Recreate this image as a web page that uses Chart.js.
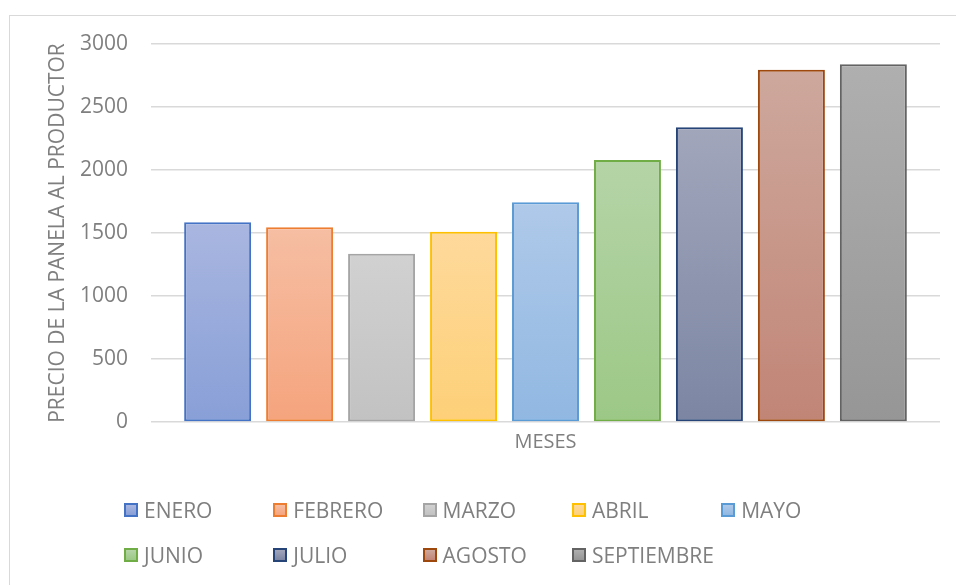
<!DOCTYPE html>
<html>
<head>
<meta charset="utf-8">
<script src="https://cdn.jsdelivr.net/npm/chart.js@4.4.1/dist/chart.umd.min.js"></script>
<style>
  html, body { margin: 0; padding: 0; background: #fff; overflow: hidden; }
  #wrap { position: relative; width: 956px; height: 585px; }
  #frame { position: absolute; left: 9px; top: 15px; width: 960px; height: 600px; border: 1.5px solid #d9d9d9; box-sizing: border-box; }
  #chart { position: absolute; left: 0; top: 0; }
  #legend { position: absolute; left: 0; top: 0; width: 956px; height: 585px; pointer-events: none;
            font-family: "Open Sans", sans-serif; font-size: 21px; color: #7f7f7f; }
  .lg { position: absolute; display: flex; align-items: center; white-space: nowrap; }
  .lg i { display: inline-block; width: 10px; height: 10px; border: 2px solid; margin-right: 6px; }
</style>
</head>
<body>
<div id="wrap">
  <div id="frame"></div>
  <canvas id="chart" width="956" height="585"></canvas>
  <div id="legend"></div>
</div>
<script>
// ---- datos ----
const meses   = ['ENERO', 'FEBRERO', 'MARZO', 'ABRIL', 'MAYO', 'JUNIO', 'JULIO', 'AGOSTO', 'SEPTIEMBRE'];
const precios = [1585, 1545, 1335, 1510, 1745, 2080, 2340, 2795, 2840];
const bordes  = ['#4472C4', '#ED7D31', '#A5A5A5', '#FFC000', '#5B9BD5', '#70AD47', '#264478', '#9E480E', '#636363'];
const arriba  = ['#A9B6E0', '#F6BEA3', '#D1D1D1', '#FED99B', '#AFC9E9', '#B5D4A7', '#A1A6BB', '#CEA89D', '#AFAFAF'];
const abajo   = ['#889FD7', '#F5A47D', '#C2C2C2', '#FDD078', '#91B8E2', '#9CC886', '#7C86A3', '#C18576', '#969696'];
const ticksY  = [0, 500, 1000, 1500, 2000, 2500, 3000];

const FONT = '"Open Sans", sans-serif';
const GRIS = '#7f7f7f';

function grad(i) {
  return (c) => {
    const chart = c.chart;
    const y = chart.scales && chart.scales.y;
    if (!chart.chartArea || !y) return arriba[i];
    const top = y.getPixelForValue(precios[i]);
    const base = y.getPixelForValue(0);
    const g = chart.ctx.createLinearGradient(0, top, 0, base);
    g.addColorStop(0, arriba[i]);
    g.addColorStop(1, abajo[i]);
    return g;
  };
}

const datasets = meses.map((m, i) => ({
  label: m,
  data: [precios[i]],
  backgroundColor: grad(i),
  borderColor: bordes[i],
  borderWidth: 2,
  borderSkipped: false,
  barPercentage: 0.817,
  categoryPercentage: 0.935,
}));

const chart = new Chart(document.getElementById('chart'), {
  type: 'bar',
  data: { labels: [''], datasets },
  options: {
    responsive: false,
    animation: false,
    devicePixelRatio: 1,
    layout: { padding: { left: 39, right: 16, top: 44, bottom: 123 } },
    plugins: { legend: { display: false }, tooltip: { enabled: false } },
    scales: {
      x: {
        grid: { display: false },
        border: { display: false },
        ticks: { display: false },
        title: { display: true, text: 'MESES', color: GRIS, font: { family: FONT, size: 20 }, padding: { top: 0, bottom: 8 } },
        afterFit: s => { s.height = 40; },
      },
      y: {
        min: 0, max: 3000,
        afterBuildTicks: s => { s.ticks = ticksY.map(v => ({ value: v })); },
        grid: { color: '#d9d9d9', lineWidth: 1.5, drawTicks: false },
        border: { display: false },
        ticks: { color: GRIS, font: { family: FONT, size: 21 }, padding: 23, callback: v => String(v) },
        title: { display: true, text: 'PRECIO DE LA PANELA AL PRODUCTOR', color: GRIS, font: { family: FONT, size: 21 }, padding: { top: 6, bottom: 0 } },
        afterFit: s => { s.width = 112; },
      },
    },
  },
});

// leyenda en rejilla, como en Excel
const legendEl = document.getElementById('legend');
chart.data.datasets.forEach((ds, i) => {
  const col = i % 5, row = Math.floor(i / 5);
  const d = document.createElement('div');
  d.className = 'lg';
  d.style.left = (124 + col * 149.3) + 'px';
  d.style.top = (496 + row * 45) + 'px';
  d.innerHTML = `<i style="border-color:${ds.borderColor};background:linear-gradient(${arriba[i]},${abajo[i]})"></i><span>${ds.label}</span>`;
  legendEl.appendChild(d);
});
</script>
</body>
</html>
